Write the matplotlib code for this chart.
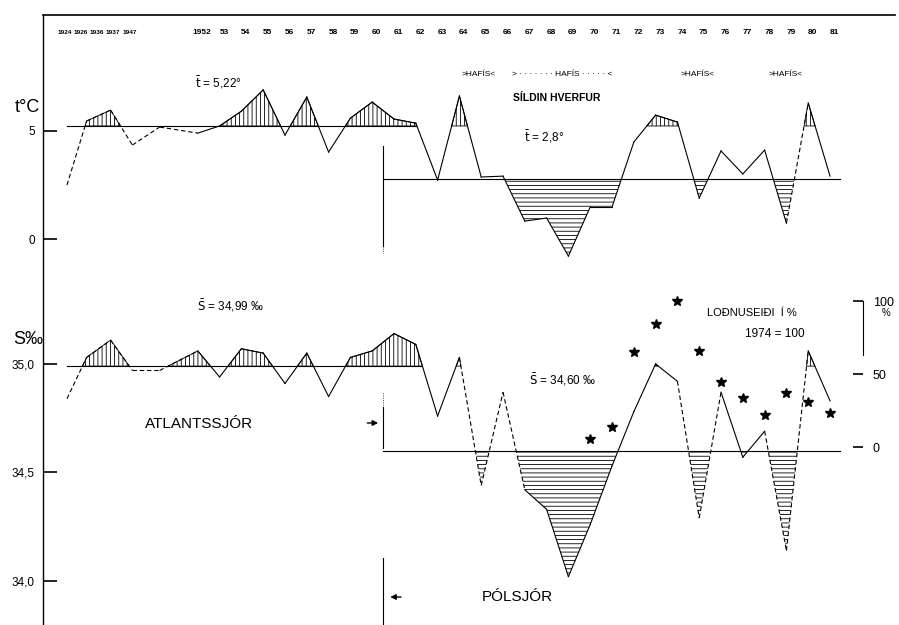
import numpy as np
import matplotlib
matplotlib.use("Agg")
import matplotlib.pyplot as plt

plt.rcParams['font.family'] = ['Liberation Sans', 'DejaVu Sans']
plt.rcParams['hatch.linewidth'] = 0.6

# years, and where they sit on the broken time axis (early years squeezed)
years = [1924, 1926, 1936, 1937, 1947] + list(range(1952, 1982))
xpos = [0, 0.9, 2, 3, 4.25] + list(range(6, 36))

# temperature (t °C)
temp = [2.50, 5.45, 5.95, 4.34, 5.17, 4.89, 5.22, 5.90, 6.88, 4.80,
        6.55, 4.02, 5.58, 6.32, 5.54, 5.35, 2.73, 6.60, 2.87, 2.91,
        0.84, 0.98, -0.77, 1.49, 1.49, 4.48, 5.72, 5.40, 1.90, 4.07,
        3.01, 4.11, 0.74, 6.28, 2.91]

# salinity (S ‰)
sal = [34.84, 35.03, 35.11, 34.97, 34.97, 35.06, 34.94, 35.07, 35.05, 34.91,
       35.05, 34.85, 35.03, 35.06, 35.14, 35.09, 34.76, 35.03, 34.44, 34.87,
       34.42, 34.33, 34.02, 34.26, 34.53, 34.78, 35.00, 34.92, 34.29, 34.87,
       34.57, 34.69, 34.14, 35.06, 34.83]

# lodnuseidi (capelin larvae), 1974 = 100
lodna_years = list(range(1970, 1982))
lodna = [5.5, 13.7, 65, 84, 100, 66, 44.5, 33.5, 22, 37, 31, 23]

t_mean1, t_mean2 = 5.22, 2.8
s_mean1, s_mean2 = 34.99, 34.60

# segments drawn dashed (by starting year)
t_dashed_from = [1924, 1926, 1936, 1937, 1947, 1979]
s_dashed_from = [1924, 1926, 1936, 1937, 1947, 1964, 1965, 1966,
                 1974, 1975, 1978, 1979]

early_labels = ["1924", "1926", "1936", "1937", "1947"]
early_label_x = [-0.1, 0.62, 1.38, 2.12, 2.86]
late_labels = ["1952"] + ["%02d" % (y % 100) for y in range(1953, 1982)]

x = np.array(xpos, float)
t = np.array(temp)
s = np.array(sal)

fig = plt.figure(figsize=(8.99, 6.25), dpi=100)
rect = [43 / 899, 0, 852 / 899, 610 / 625]
ax_t = fig.add_axes(rect)
ax_s = fig.add_axes(rect, facecolor='none')
ax_p = fig.add_axes(rect, facecolor='none')

for a in (ax_t, ax_s, ax_p):
    a.set_xlim(-1.1, 37.98)
    a.set_xticks([])
    for sp in a.spines.values():
        sp.set_visible(False)

ax_t.set_ylim(-17.76, 10.33)
ax_s.set_ylim(33.797, 36.608)
ax_p.set_ylim(-121.9, 295.9)

ax_t.spines['top'].set_visible(True)
ax_t.spines['top'].set_linewidth(1.2)
ax_t.spines['left'].set_visible(True)
ax_t.spines['left'].set_linewidth(1.0)

ax_t.set_yticks([5, 0])
ax_t.set_yticklabels(["5", "0"])
ax_s.set_yticks([35.0, 34.5, 34.0])
ax_s.set_yticklabels(["35,0", "34,5", "34,0"])
for a in (ax_t, ax_s):
    a.tick_params(axis='y', direction='in', length=10, width=1.2, pad=6,
                  labelsize=8.5)

ax_p.yaxis.tick_right()
ax_p.spines['right'].set_visible(True)
ax_p.spines['right'].set_position(('axes', 0.9624))
ax_p.spines['right'].set_bounds(63, 100)
ax_p.set_yticks([0, 50, 100])
ax_p.set_yticklabels(["0", "50", "100"])
ax_p.tick_params(axis='y', direction='in', length=7, width=1.2, pad=7,
                 labelsize=9)


def draw_series(ax, y, dashed_from):
    for i in range(len(x) - 1):
        ls = (0, (4, 2.5)) if years[i] in dashed_from else '-'
        ax.plot(x[i:i + 2], y[i:i + 2], color='black', lw=0.8, ls=ls)


i61 = years.index(1961)
i62 = years.index(1962)
split = (x[i61 - 1] + x[i61]) / 2
end = x[-1] + 0.45
late = x >= x[i62]

# temperature
ax_t.fill_between(x, t, t_mean1, where=t > t_mean1, interpolate=True,
                  facecolor='none', edgecolor='black', hatch='||||', lw=0.6)
ax_t.fill_between(x[late], t[late], t_mean2, where=t[late] < t_mean2,
                  interpolate=True, facecolor='none', edgecolor='black',
                  hatch='----', lw=0)
ax_t.plot([x[0], x[i62]], [t_mean1, t_mean1], color='black', lw=0.8)
ax_t.plot([split, end], [t_mean2, t_mean2], color='black', lw=0.8)
draw_series(ax_t, t, t_dashed_from)
ax_t.plot([split, split], [4.3, -0.3], color='black', lw=0.8)
ax_t.plot([split, split], [-0.3, -0.65], color='black', lw=0.6, ls=':')

# salinity
ax_s.fill_between(x, s, s_mean1, where=s > s_mean1, interpolate=True,
                  facecolor='none', edgecolor='black', hatch='||||', lw=0.6)
ax_s.fill_between(x[late], s[late], s_mean2, where=s[late] < s_mean2,
                  interpolate=True, facecolor='none', edgecolor='black',
                  hatch='----', lw=0)
ax_s.plot([x[0], x[i62] + 0.3], [s_mean1, s_mean1], color='black', lw=0.8)
ax_s.plot([split, end], [s_mean2, s_mean2], color='black', lw=0.8)
draw_series(ax_s, s, s_dashed_from)
ax_s.plot([split, split], [34.80, 34.613], color='black', lw=0.8)
ax_s.plot([split, split], [34.866, 34.80], color='black', lw=0.6, ls=':')
ax_s.plot([split, split], [34.106, 33.80], color='black', lw=0.8)
ax_s.annotate("", xy=(split - 0.1, 34.728), xytext=(split - 0.85, 34.728),
              arrowprops=dict(arrowstyle='-|>', color='black', lw=1,
                              mutation_scale=8))
ax_s.annotate("", xy=(split + 0.2, 33.926), xytext=(split + 0.95, 33.926),
              arrowprops=dict(arrowstyle='-|>', color='black', lw=1,
                              mutation_scale=8))

# capelin larvae stars
lx = [x[years.index(y)] for y in lodna_years]
ax_p.plot(lx, lodna, ls='none', marker='*', color='black', markersize=7)

# year labels along the top
yt = ax_t.get_xaxis_transform()
for lab, xl in zip(early_labels, early_label_x):
    ax_t.text(xl, 0.9705, lab, transform=yt, ha='center', va='center',
              fontsize=4.6, fontweight='bold')
for lab, xl in zip(late_labels, x[5:]):
    ax_t.text(xl + 0.2, 0.9705, lab, transform=yt, ha='center',
              va='center', fontsize=6, fontweight='bold')

# texts
ax_t.text(6.93, 7.2, r"$\bar{\mathrm{t}}$ = 5,22°", ha='center',
          va='center', fontsize=8.5)
ax_t.text(21.88, 4.71, r"$\bar{\mathrm{t}}$ = 2,8°", ha='center',
          va='center', fontsize=8.5)
ax_t.text(22.48, 6.5, "SÍLDIN HVERFUR", ha='center', va='center',
          fontsize=7.5, fontweight='bold')
for xh, lab in [(18.9, ">HAFÍS<"),
                (22.7, "> · · · · · · · HAFÍS · · · · · <"),
                (28.94, ">HAFÍS<"), (32.98, ">HAFÍS<")]:
    ax_t.text(xh, 7.61, lab, ha='center', va='center', fontsize=6)

ax_s.text(7.48, 35.267, r"$\bar{\mathrm{S}}$ = 34,99 ‰", ha='center',
          va='center', fontsize=8.5)
ax_s.text(22.75, 34.926, r"$\bar{\mathrm{S}}$ = 34,60 ‰", ha='center',
          va='center', fontsize=8.5)
ax_s.text(6.06, 34.724, "ATLANTSSJÓR", ha='center', va='center',
          fontsize=11)
ax_s.text(20.64, 33.926, "PÓLSJÓR", ha='center', va='center', fontsize=11)

ax_p.text(31.42, 91.8, "LOÐNUSEIÐI  Í %", ha='center', va='center',
          fontsize=8)
ax_p.text(32.48, 77.4, "1974 = 100", ha='center', va='center', fontsize=8.5)

fig.text(886 / 899, 1 - 313 / 625, "%", ha='center', va='center',
         fontsize=7)
fig.text(27 / 899, 1 - 108 / 625, "t°C", ha='center', va='center',
         fontsize=13)
fig.text(28 / 899, 1 - 340 / 625, "S‰", ha='center', va='center',
         fontsize=13)

fig.savefig("out.png", dpi=100)
